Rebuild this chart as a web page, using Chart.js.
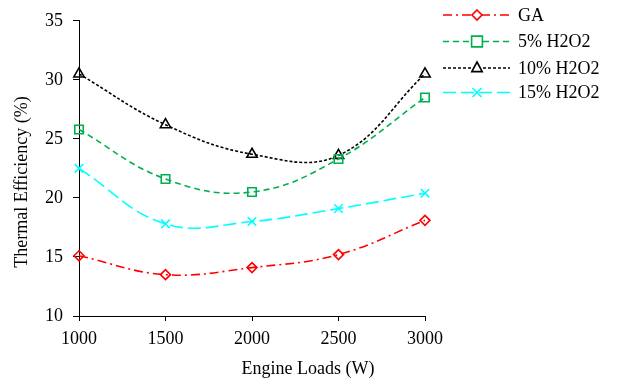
<!DOCTYPE html>
<html>
<head>
<meta charset="utf-8">
<script src="https://cdn.jsdelivr.net/npm/chart.js@4/dist/chart.umd.min.js"></script>
<style>
html,body{margin:0;padding:0;background:#fff;}
#wrap{width:617px;height:381px;position:relative;}
</style>
</head>
<body>
<div id="wrap"><canvas id="c" width="617" height="381"></canvas></div>
<script>
const loads = [1000, 1500, 2000, 2500, 3000];
const gaValues = [15.1, 13.5, 14.1, 15.2, 18.1];
const h2o2_5 = [25.8, 21.6, 20.5, 23.3, 28.5];
const h2o2_10 = [30.5, 26.2, 23.7, 23.6, 30.5];
const h2o2_15 = [22.5, 17.8, 18.0, 19.1, 20.4];
const seriesNames = ['GA', '5% H2O2', '10% H2O2', '15% H2O2'];
const yTicks = [10, 15, 20, 25, 30, 35];
const xTitle = 'Engine Loads (W)';
const yTitle = 'Thermal Efficiency (%)';

const FONT = '"Liberation Serif", "Times New Roman", serif';

function pts(vals){ return loads.map((x,i)=>({x:x,y:vals[i]})); }

const styles = [
  {color:'#FF0000', dash:[9,4,2,4], marker:'diamond', r:5},
  {color:'#00B050', dash:[6,4], marker:'square', r:6},
  {color:'#000000', dash:[3,2], marker:'triangle', r:6},
  {color:'#00FFFF', dash:[13,5], marker:'x', r:6}
];
const pointStyleMap = {diamond:'rectRot', square:'rect', triangle:'triangle', x:'crossRot'};
const allVals = [gaValues, h2o2_5, h2o2_10, h2o2_15];

const datasets = allVals.map((v,i)=>({
  label: seriesNames[i],
  data: pts(v),
  borderColor: styles[i].color,
  backgroundColor: '#ffffff',
  borderWidth: 1.6,
  borderDash: styles[i].dash,
  pointStyle: pointStyleMap[styles[i].marker],
  pointRadius: styles[i].r,
  pointBorderWidth: 1.6,
  pointBorderColor: styles[i].color,
  pointBackgroundColor: 'rgba(255,255,255,0)',
  tension: 0.4,
  clip: false,
  fill: false
}));

function drawMarker(ctx, type, x, y, r, color){
  ctx.save();
  ctx.setLineDash([]);
  ctx.strokeStyle = color;
  ctx.lineWidth = 1.6;
  ctx.beginPath();
  if(type==='diamond'){
    ctx.moveTo(x, y-r); ctx.lineTo(x+r, y); ctx.lineTo(x, y+r); ctx.lineTo(x-r, y); ctx.closePath();
  } else if(type==='square'){
    const s = r*0.9;
    ctx.rect(x-s, y-s, 2*s, 2*s);
  } else if(type==='triangle'){
    ctx.moveTo(x, y-r); ctx.lineTo(x+r*0.87, y+r*0.6); ctx.lineTo(x-r*0.87, y+r*0.6); ctx.closePath();
  } else {
    const s = r*0.75;
    ctx.moveTo(x-s, y-s); ctx.lineTo(x+s, y+s); ctx.moveTo(x+s, y-s); ctx.lineTo(x-s, y+s);
  }
  ctx.fillStyle = '#fff';
  if(type!=='x') ctx.fill();
  ctx.stroke();
  ctx.restore();
}

const customPlugin = {
  id: 'custom',
  afterDraw(chart){
    const ctx = chart.ctx;
    const rows = [15, 41.5, 68, 92.5];
    chart.data.datasets.forEach((ds,i)=>{
      const y = rows[i];
      ctx.save();
      ctx.strokeStyle = ds.borderColor;
      ctx.lineWidth = 1.6;
      ctx.setLineDash(ds.borderDash);
      ctx.beginPath();
      ctx.moveTo(443, y); ctx.lineTo(510, y);
      ctx.stroke();
      ctx.restore();
      drawMarker(ctx, styles[i].marker, 477, y, styles[i].r, ds.borderColor);
      ctx.save();
      ctx.fillStyle = '#000';
      ctx.font = '18px ' + FONT;
      ctx.textBaseline = 'middle';
      ctx.textAlign = 'left';
      ctx.fillText(ds.label, 518, y+1);
      ctx.restore();
    });
    ctx.save();
    ctx.fillStyle = '#000';
    ctx.font = '18px ' + FONT;
    ctx.textAlign = 'center';
    ctx.textBaseline = 'middle';
    ctx.fillText(xTitle, 308, 369);
    ctx.translate(22, 182);
    ctx.rotate(-Math.PI/2);
    ctx.fillText(yTitle, 0, 0);
    ctx.restore();
  }
};

new Chart(document.getElementById('c'), {
  type: 'line',
  data: { datasets: datasets },
  options: {
    responsive: false,
    animation: false,
    devicePixelRatio: 1,
    layout: { padding: { left: 0, right: 192, top: 20, bottom: 0 } },
    plugins: { legend: { display: false }, tooltip: { enabled: false } },
    scales: {
      x: {
        type: 'linear',
        min: 1000, max: 3000,
        afterBuildTicks: (s)=>{ s.ticks = loads.map(v=>({value:v})); },
        afterFit: (s)=>{ s.height = 65; },
        grid: { drawOnChartArea: false, drawTicks: true, tickLength: 5, color: '#000', tickColor: '#000' },
        border: { color: '#000', width: 1 },
        ticks: { color: '#000', font: { family: FONT, size: 18 }, padding: 7, maxRotation: 0,
                 callback: (v)=>String(v) }
      },
      y: {
        type: 'linear',
        min: 10, max: 35,
        afterBuildTicks: (s)=>{ s.ticks = yTicks.map(v=>({value:v})); },
        afterFit: (s)=>{ s.width = 79; },
        grid: { drawOnChartArea: false, drawTicks: true, tickLength: 6, color: '#000', tickColor: '#000' },
        border: { color: '#000', width: 1 },
        ticks: { color: '#000', font: { family: FONT, size: 18 }, padding: 10, callback: (v)=>String(v) }
      }
    }
  },
  plugins: [customPlugin]
});
</script>
</body>
</html>
